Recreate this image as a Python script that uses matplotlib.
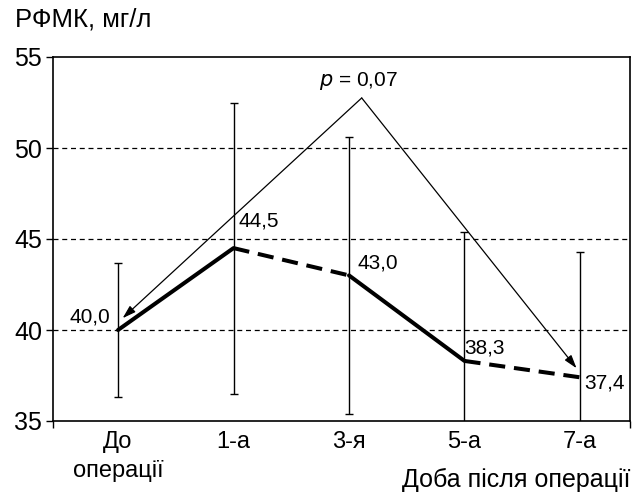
import numpy as np
import matplotlib.pyplot as plt

plt.rcParams['font.family'] = ['Liberation Sans', 'DejaVu Sans']

# data
days = ["До\nоперації", "1-а", "3-я", "5-а", "7-а"]
mean = np.array([40.0, 44.5, 43.0, 38.3, 37.4])
err = np.array([3.7, 8.0, 7.6, 7.1, 6.9])
labels = ["40,0", "44,5", "43,0", "38,3", "37,4"]
peak = (2.11, 52.75)   # apex of the p-value bracket

x = np.arange(len(days))

fig = plt.figure(figsize=(6.39, 4.93), dpi=100)
ax = fig.add_axes([53/639, 1 - 421/493, 577/639, 364/493])

# dashed horizontal grid
for g in [40, 45, 50]:
    ax.axhline(g, color="black", lw=0.9, ls=(0, (4, 3)), zorder=0)

# error bars
ax.errorbar(x, mean, yerr=err, fmt="none", ecolor="black", elinewidth=1.0,
            capsize=3, capthick=1.0, zorder=2)

# mean line: solid / dashed alternating segments
styles = ["-", (0, (4, 2.2)), "-", (0, (4, 2.2))]
for i in range(len(x) - 1):
    ax.plot(x[i:i+2], mean[i:i+2], color="black", lw=2.9, ls=styles[i],
            solid_capstyle="round", zorder=3)

# p-value bracket with arrows
arr = dict(arrowstyle="-|>,head_length=0.8,head_width=0.25",
           color="black", lw=0.9, shrinkA=0, shrinkB=0)
ax.annotate("", xy=(0.04, 40.65), xytext=peak, arrowprops=arr)
ax.annotate("", xy=(3.97, 37.9), xytext=peak, arrowprops=arr)
ax.text(peak[0] - 0.03, peak[1] + 0.3, r"$\it{p}$ = 0,07", ha="center",
        va="bottom", fontsize=15)

# value labels
lab_pos = [(-0.07, 40.7, "right"), (1.04, 46.0, "left"), (2.07, 43.7, "left"),
           (3.0, 39.0, "left"), (4.04, 37.1, "left")]
for (lx, ly, ha), t in zip(lab_pos, labels):
    ax.text(lx, ly, t, ha=ha, va="center", fontsize=15)

ax.set_xlim(-0.563, 4.433)
ax.set_ylim(35, 55)
ax.set_yticks([35, 40, 45, 50, 55])
ax.tick_params(axis="y", labelsize=18, length=5, width=1, direction="out", pad=3)
ax.set_xticks(x)
ax.set_xticklabels(days)
ax.tick_params(axis="x", labelsize=17, length=0, pad=7)
for lab in ax.get_xticklabels():
    lab.set_linespacing(1.4)
ax.set_xticks([-0.563, 4.433], minor=True)
ax.tick_params(axis="x", which="minor", length=5, width=1)
for s in ax.spines.values():
    s.set_linewidth(1.2)

fig.text(15/639, 1 - 20/493, "РФМК, мг/л", fontsize=18.5, va="center", ha="left")
fig.text(630/639, 1 - 480/493, "Доба після операції", fontsize=18,
         va="center", ha="right")

fig.savefig("out.png", dpi=100)
